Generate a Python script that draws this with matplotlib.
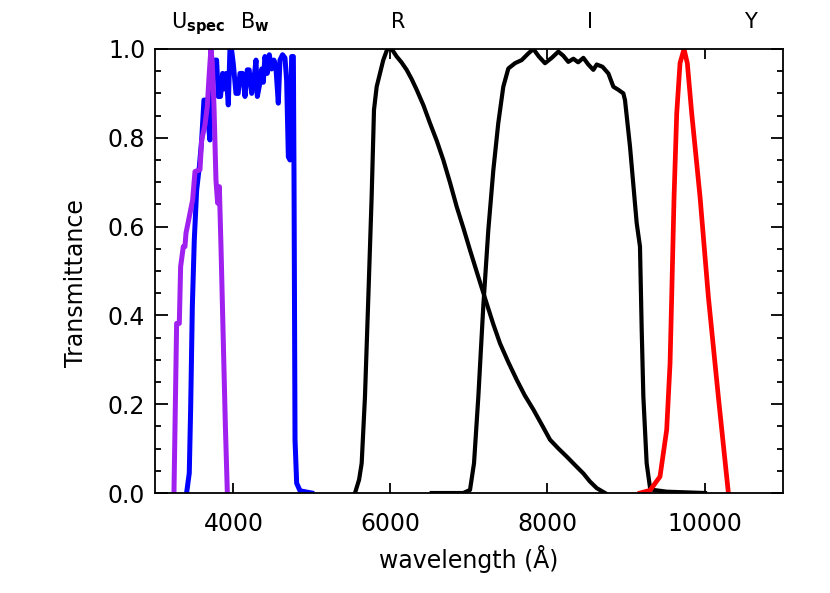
import matplotlib

matplotlib.use("Agg")
import matplotlib.pyplot as plt
from matplotlib.ticker import FormatStrFormatter, MultipleLocator

# filter transmission curves (wavelength in Angstrom)
uspec_wave = [3242, 3276, 3310, 3327, 3361, 3382, 3395, 3437, 3480, 3510, 3573, 3595,
              3637, 3666, 3692, 3713, 3730, 3752, 3777, 3798, 3820, 3841, 3870, 3896, 3922]
uspec_trans = [0.0, 0.382, 0.382, 0.51, 0.555, 0.555, 0.585, 0.622, 0.66, 0.724, 0.728, 0.795,
               0.829, 0.87, 0.946, 1.0, 0.97, 0.87, 0.705, 0.653, 0.69, 0.555, 0.345, 0.157, 0.0]

bw_wave = [3403, 3437, 3455, 3476, 3501, 3531, 3565, 3595, 3624, 3650, 3679, 3700, 3722,
           3764, 3785, 3807, 3835, 3862, 3880, 3908, 3934, 3955, 3976, 3997, 4032, 4060,
           4083, 4115, 4147, 4176, 4200, 4232, 4260, 4287, 4304, 4338, 4360, 4380, 4401,
           4430, 4457, 4485, 4515, 4540, 4571, 4592, 4625, 4656, 4677, 4699, 4720, 4741,
           4763, 4771, 4784, 4805, 4848, 4996]
bw_trans = [0.0, 0.045, 0.194, 0.42, 0.57, 0.682, 0.735, 0.795, 0.885, 0.885, 0.833, 0.795,
            0.945, 0.975, 0.975, 0.893, 0.893, 0.945, 0.91, 0.945, 0.874, 0.998, 0.998,
            0.968, 0.9, 0.9, 0.945, 0.945, 0.893, 0.953, 0.953, 0.9, 0.93, 0.975, 0.893,
            0.925, 0.955, 0.925, 0.983, 0.945, 0.987, 0.955, 0.975, 0.96, 0.878, 0.975,
            0.987, 0.98, 0.93, 0.757, 0.75, 0.983, 0.983, 0.72, 0.12, 0.022, 0.005, 0.0]

r_wave = [5548, 5600, 5633, 5675, 5718, 5760, 5790, 5824, 5866, 5908, 5960, 6015, 6079,
          6140, 6206, 6270, 6334, 6420, 6503, 6590, 6673, 6760, 6843, 6930, 7013, 7120,
          7225, 7310, 7395, 7500, 7608, 7710, 7820, 7930, 8032, 8140, 8245, 8350, 8457,
          8540, 8627, 8733]
r_trans = [0.0, 0.03, 0.067, 0.217, 0.442, 0.667, 0.863, 0.915, 0.945, 0.975, 1.0, 1.0,
           0.983, 0.97, 0.953, 0.932, 0.908, 0.873, 0.833, 0.793, 0.75, 0.698, 0.645,
           0.596, 0.547, 0.486, 0.427, 0.38, 0.337, 0.295, 0.255, 0.22, 0.188, 0.153,
           0.12, 0.1, 0.082, 0.063, 0.044, 0.026, 0.011, 0.0]

i_wave = [6525, 6928, 7013, 7064, 7119, 7182, 7246, 7310, 7373, 7437, 7501, 7586, 7671,
          7756, 7820, 7890, 7968, 8054, 8138, 8200, 8265, 8330, 8390, 8457, 8520, 8584,
          8627, 8700, 8775, 8839, 8903, 8966, 8987, 9051, 9136, 9178, 9200, 9221, 9263,
          9306, 9348, 9518, 10006]
i_trans = [0.0, 0.0, 0.007, 0.067, 0.217, 0.42, 0.592, 0.727, 0.833, 0.915, 0.956, 0.968,
           0.975, 0.99, 1.0, 0.983, 0.968, 0.98, 0.994, 0.985, 0.971, 0.978, 0.97, 0.98,
           0.965, 0.953, 0.965, 0.96, 0.945, 0.915, 0.908, 0.9, 0.885, 0.78, 0.608, 0.555,
           0.367, 0.217, 0.067, 0.012, 0.007, 0.003, 0.0]

y_wave = [9178, 9306, 9433, 9518, 9561, 9582, 9612, 9646, 9688, 9739, 9781, 9837, 9943,
          10049, 10176, 10304]
y_trans = [0.0, 0.006, 0.037, 0.142, 0.292, 0.442, 0.667, 0.855, 0.968, 1.0, 0.968, 0.855,
           0.667, 0.442, 0.217, 0.0]

band_labels = [r"U$_{\mathbf{spec}}$", r"B$_{\mathbf{w}}$", "R", "I", "Y"]
band_label_x = [3550, 4274, 6095, 8541, 10580]

plt.rcParams["font.family"] = ["DejaVu Sans"]
plt.rcParams["mathtext.fontset"] = "dejavusans"

fig = plt.figure(figsize=(8.3, 5.93), dpi=100)
ax = fig.add_axes([0.1867, 0.1686, 0.7567, 0.7488])

ax.plot(bw_wave, bw_trans, color="#0000ff", lw=3.6)
ax.plot(uspec_wave, uspec_trans, color="#a020f0", lw=3.6)
ax.plot(r_wave, r_trans, color="black", lw=3.0)
ax.plot(i_wave, i_trans, color="black", lw=3.0)
ax.plot(y_wave, y_trans, color="#ff0000", lw=3.4)

ax.set_xlim(3000, 11000)
ax.set_ylim(0, 1.0)
ax.xaxis.set_major_locator(MultipleLocator(2000))
ax.yaxis.set_major_locator(MultipleLocator(0.2))
ax.yaxis.set_minor_locator(MultipleLocator(0.05))
ax.yaxis.set_major_formatter(FormatStrFormatter("%.1f"))

ax.tick_params(which="both", direction="in", top=True, right=True, width=1.3,
               labelsize=17)
ax.tick_params(axis="x", which="major", length=7.5, pad=14)
ax.tick_params(axis="y", which="major", length=9, pad=7)
ax.tick_params(axis="y", which="minor", length=4.5)
for spine in ax.spines.values():
    spine.set_linewidth(1.3)

ax.set_xlabel("wavelength (Å)", fontsize=17, labelpad=6)
ax.set_ylabel("Transmittance", fontsize=17, labelpad=14)
ax.yaxis.label.set_y(0.473)

for label, xpos in zip(band_labels, band_label_x):
    ax.text(xpos, 1.047, label, transform=ax.get_xaxis_transform(), ha="center",
            va="baseline", fontsize=15)

fig.savefig("out.png", dpi=100)
